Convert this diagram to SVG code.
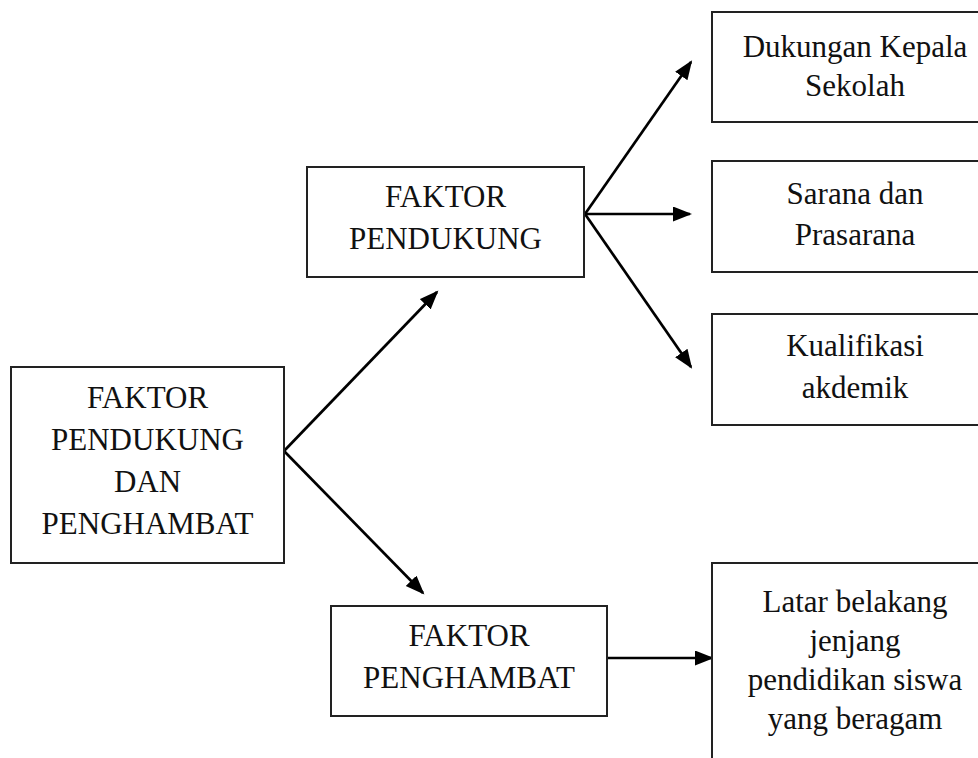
<svg xmlns="http://www.w3.org/2000/svg" width="978" height="758" viewBox="0 0 978 758">
<defs>
<marker id="ah" markerUnits="userSpaceOnUse" markerWidth="20" markerHeight="16" refX="17" refY="7.5" orient="auto">
<path d="M0,0 L19,7.5 L0,15 Z" fill="#000"/>
</marker>
<style>
.box{fill:#fff;stroke:#222;stroke-width:2}
.t{font-family:"Liberation Serif","Times New Roman",serif;font-size:31px;fill:#111;text-anchor:middle}
.c{stroke:#000;stroke-width:2.7;fill:none;marker-end:url(#ah)}
</style>
</defs>
<rect width="978" height="758" fill="#fff"/>
<g id="connectors">
<line class="c" x1="284" y1="451" x2="437" y2="292"/>
<line class="c" x1="284" y1="451" x2="423" y2="593"/>
<line class="c" x1="585" y1="214" x2="691" y2="62"/>
<line class="c" x1="585" y1="214" x2="690" y2="214"/>
<line class="c" x1="585" y1="214" x2="691" y2="367"/>
<line class="c" x1="607" y1="658" x2="712" y2="658"/>
</g>
<g id="main">
<rect class="box" x="11" y="367" width="273" height="196"/>
<text class="t" x="147.5" y="408">FAKTOR</text>
<text class="t" x="147.5" y="450">PENDUKUNG</text>
<text class="t" x="147.5" y="492">DAN</text>
<text class="t" x="147.5" y="534">PENGHAMBAT</text>
</g>
<g id="pendukung">
<rect class="box" x="307" y="167" width="277" height="110"/>
<text class="t" x="445.5" y="207">FAKTOR</text>
<text class="t" x="445.5" y="249">PENDUKUNG</text>
</g>
<g id="penghambat">
<rect class="box" x="331" y="606" width="276" height="110"/>
<text class="t" x="469" y="646">FAKTOR</text>
<text class="t" x="469" y="688">PENGHAMBAT</text>
</g>
<g id="dukungan">
<rect class="box" x="712" y="12" width="300" height="110"/>
<text class="t" x="855" y="57">Dukungan Kepala</text>
<text class="t" x="855" y="96">Sekolah</text>
</g>
<g id="sarana">
<rect class="box" x="712" y="161" width="300" height="111"/>
<text class="t" x="855" y="204">Sarana dan</text>
<text class="t" x="855" y="245">Prasarana</text>
</g>
<g id="kualifikasi">
<rect class="box" x="712" y="314" width="300" height="111"/>
<text class="t" x="855" y="356">Kualifikasi</text>
<text class="t" x="855" y="398">akdemik</text>
</g>
<g id="latar">
<rect class="box" x="712" y="563" width="300" height="220"/>
<text class="t" x="855" y="612">Latar belakang</text>
<text class="t" x="855" y="651">jenjang</text>
<text class="t" x="855" y="690">pendidikan siswa</text>
<text class="t" x="855" y="729">yang beragam</text>
</g>
</svg>
